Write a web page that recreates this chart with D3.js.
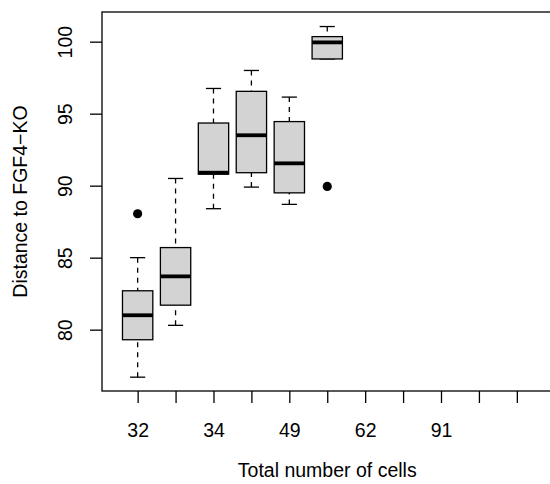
<!DOCTYPE html>
<html>
<head>
<meta charset="utf-8">
<script src="https://cdn.jsdelivr.net/npm/d3@7"></script>
<style>
  body { margin: 0; background: #fff; }
  svg { display: block; font-family: "Liberation Sans", Arial, sans-serif; }
</style>
</head>
<body>
<div id="chart"></div>
<script>
// tick labels, only every other one is printed on the axis
const tickLabels = ["32", "", "34", "", "49", "", "62", "", "91", "", ""];
const lowWhisker = [76.7, 80.3, 88.4, 89.9, 88.7, 98.8];
const q1 = [79.3, 81.7, 90.8, 90.9, 89.5, 98.8];
const medians = [81.0, 83.7, 90.9, 93.5, 91.55, 99.95];
const q3 = [82.7, 85.7, 94.35, 96.55, 94.45, 100.35];
const highWhisker = [85.0, 90.5, 96.75, 98.0, 96.15, 101.05];
const outliers = [[88.05], [], [], [], [], [89.95]];
const yTicks = [80, 85, 90, 95, 100];

const width = 550, height = 484;
const mLeft = 102, mTop = 12, mBottom = 391;

const svg = d3.select("#chart").append("svg")
  .attr("width", width)
  .attr("height", height);

const x = d3.scaleLinear()
  .domain([0.06, tickLabels.length + 0.94])
  .range([mLeft, mLeft + 11.88 * 37.92]);

const y = d3.scaleLinear()
  .domain([75.74, 102.06])
  .range([mBottom, mTop]);

const boxW = 0.8 * (x(2) - x(1));

const groups = medians.map((m, i) => ({
  i: i + 1, lo: lowWhisker[i], q1: q1[i], med: m, q3: q3[i], hi: highWhisker[i], out: outliers[i]
}));

const g = svg.append("g");

// whiskers
g.selectAll(".wh").data(groups).join("g")
  .each(function (d) {
    const s = d3.select(this);
    const cx = x(d.i);
    s.append("line").attr("x1", cx).attr("x2", cx).attr("y1", y(d.hi)).attr("y2", y(d.q3))
      .attr("stroke", "#000").attr("stroke-width", 1.3).attr("stroke-dasharray", "5,5");
    s.append("line").attr("x1", cx).attr("x2", cx).attr("y1", y(d.lo)).attr("y2", y(d.q1))
      .attr("stroke", "#000").attr("stroke-width", 1.3).attr("stroke-dasharray", "5,5");
    s.append("line").attr("x1", cx - boxW / 4).attr("x2", cx + boxW / 4).attr("y1", y(d.hi)).attr("y2", y(d.hi))
      .attr("stroke", "#000").attr("stroke-width", 1.3);
    s.append("line").attr("x1", cx - boxW / 4).attr("x2", cx + boxW / 4).attr("y1", y(d.lo)).attr("y2", y(d.lo))
      .attr("stroke", "#000").attr("stroke-width", 1.3);
  });

// boxes
g.selectAll("rect.box").data(groups).join("rect")
  .attr("class", "box")
  .attr("x", d => x(d.i) - boxW / 2)
  .attr("width", boxW)
  .attr("y", d => y(d.q3))
  .attr("height", d => y(d.q1) - y(d.q3))
  .attr("fill", "#d3d3d3")
  .attr("stroke", "#000")
  .attr("stroke-width", 1.3);

// medians
g.selectAll("line.med").data(groups).join("line")
  .attr("class", "med")
  .attr("x1", d => x(d.i) - boxW / 2)
  .attr("x2", d => x(d.i) + boxW / 2)
  .attr("y1", d => y(d.med))
  .attr("y2", d => y(d.med))
  .attr("stroke", "#000")
  .attr("stroke-width", 3.8);

// outliers
g.selectAll("circle").data(groups.flatMap(d => d.out.map(v => ({ i: d.i, v }))))
  .join("circle")
  .attr("cx", d => x(d.i))
  .attr("cy", d => y(d.v))
  .attr("r", 4.6)
  .attr("fill", "#000");

// frame (right side falls outside the window)
svg.append("rect")
  .attr("x", mLeft).attr("y", mTop)
  .attr("width", x.range()[1] - mLeft).attr("height", mBottom - mTop)
  .attr("fill", "none").attr("stroke", "#000").attr("stroke-width", 1.3);

// x axis
const xAxis = d3.axisBottom(x)
  .tickValues(d3.range(1, tickLabels.length + 1))
  .tickFormat(d => tickLabels[d - 1])
  .tickSizeOuter(0)
  .tickSize(12)
  .tickPadding(20);
const gx = svg.append("g").attr("transform", `translate(0,${mBottom})`).call(xAxis);
gx.select(".domain").remove();
gx.selectAll(".tick line").attr("stroke-width", 1.3);
gx.selectAll("text").attr("font-size", 19.5).attr("fill", "#000")
  .attr("font-family", "Liberation Sans, Arial, sans-serif");

// y axis
const yAxis = d3.axisLeft(y).tickValues(yTicks).tickSize(12).tickSizeOuter(0);
const gy = svg.append("g").attr("transform", `translate(${mLeft},0)`).call(yAxis);
gy.select(".domain").remove();
gy.selectAll(".tick line").attr("stroke-width", 1.3);
gy.selectAll("text")
  .attr("font-size", 19.5).attr("fill", "#000")
  .attr("font-family", "Liberation Sans, Arial, sans-serif")
  .attr("x", null).attr("dy", null)
  .attr("text-anchor", "middle")
  .attr("transform", "translate(-30,0) rotate(-90)");

// axis titles
svg.append("text")
  .attr("x", (x(1) + x(11)) / 2)
  .attr("y", 477)
  .attr("text-anchor", "middle")
  .attr("font-size", 19.5)
  .text("Total number of cells");

svg.append("text")
  .attr("transform", `translate(27,${(mTop + mBottom) / 2}) rotate(-90)`)
  .attr("text-anchor", "middle")
  .attr("font-size", 19.5)
  .text("Distance to FGF4\u2212KO");
</script>
</body>
</html>
